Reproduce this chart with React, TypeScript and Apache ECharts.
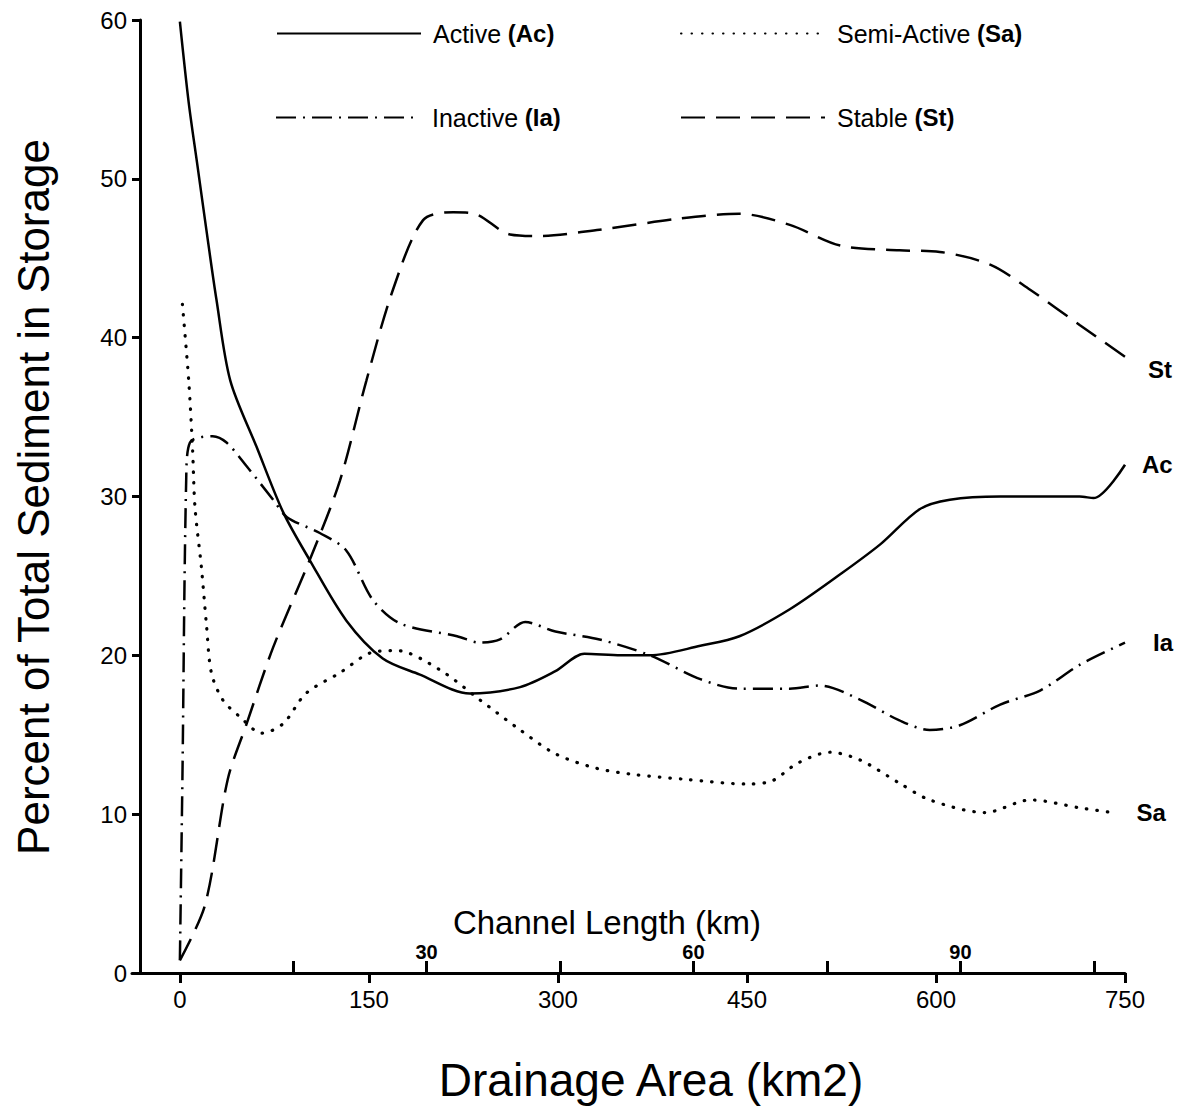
import React, { useEffect, useRef } from "react";
import * as echarts from "echarts";

// Drainage area (km2) and percent values
const acX = [0, 7, 14, 21, 29, 40, 61, 82, 103, 132, 161, 190, 230, 270, 298, 321, 350, 373, 413, 444, 484, 524, 556, 587, 611, 651, 683, 714, 725, 750];
const acY = [59.9, 54.8, 50.8, 46.8, 42.4, 37.3, 33.1, 29.0, 26.0, 22.2, 19.8, 18.8, 17.6, 18.0, 19.0, 20.1, 20.0, 20.0, 20.6, 21.2, 22.9, 25.1, 27.0, 29.2, 29.8, 30.0, 30.0, 30.0, 29.9, 32.0];

const saX = [2, 7, 10, 12, 17, 21, 25, 34, 48, 65, 82, 100, 127, 153, 172, 206, 238, 270, 298, 330, 360, 400, 450, 470, 490, 516, 540, 570, 595, 639, 675, 714, 740];
const saY = [42.1, 37.3, 33.1, 29.3, 25.6, 22.0, 18.9, 17.2, 16.1, 15.1, 15.7, 17.6, 18.9, 20.2, 20.3, 19.1, 17.2, 15.3, 13.8, 12.9, 12.5, 12.2, 11.9, 12.1, 13.2, 13.9, 13.4, 12.0, 10.9, 10.1, 10.9, 10.4, 10.1];

const iaX = [0, 2, 5, 8, 26, 37, 53, 74, 85, 111, 132, 153, 175, 220, 238, 254, 274, 298, 333, 373, 413, 444, 484, 508, 540, 571, 595, 619, 651, 683, 714, 750];
const iaY = [0.8, 12.2, 31.0, 33.4, 33.8, 33.4, 31.9, 29.8, 28.7, 27.7, 26.6, 23.5, 22.0, 21.2, 20.8, 21.0, 22.1, 21.5, 21.0, 20.0, 18.5, 17.9, 17.9, 18.1, 17.2, 15.9, 15.3, 15.6, 16.9, 17.8, 19.4, 20.8];

const stX = [0, 20, 38, 53, 74, 103, 127, 148, 169, 193, 217, 234, 262, 286, 333, 397, 444, 484, 524, 571, 603, 643, 675, 714, 750];
const stY = [0.8, 4.3, 12.2, 15.7, 20.5, 26.0, 31.0, 37.3, 43.0, 47.4, 47.9, 47.8, 46.5, 46.4, 46.8, 47.5, 47.8, 47.1, 45.8, 45.5, 45.4, 44.6, 43.0, 40.8, 38.8];

const areaTicks = [0, 150, 300, 450, 600, 750];
const lengthTicks = [15, 30, 45, 60, 75, 90, 105];
const lengthLabels = [30, 60, 90];

const seriesNames = ["Active (Ac)", "Semi-Active (Sa)", "Inactive (Ia)", "Stable (St)"];
const endNames = ["Ac", "Sa", "Ia", "St"];

const FONT = "'Liberation Sans', Arial, Helvetica, sans-serif";

function pairs(xs: number[], ys: number[]) {
  return xs.map((x, i) => [x, ys[i]]);
}

export default function App() {
  const ref = useRef<HTMLDivElement>(null);

  useEffect(() => {
    const chart = echarts.init(ref.current as HTMLDivElement, null, { renderer: "svg" });

    const legendFormatter = (name: string) => {
      const m = name.match(/^(.*) (\(.*\))$/);
      if (!m) return name;
      return `{n|${m[1]}}  {b|${m[2]}}`;
    };
    const mkLegend = (name: string, left: number, top: number) => ({
      data: [name],
      left,
      top,
      padding: 0,
      itemWidth: 144,
      itemHeight: 14,
      selectedMode: false,
      itemStyle: { opacity: 0, borderWidth: 0 },
      formatter: legendFormatter,
      textStyle: {
        color: "#000",
        fontFamily: FONT,
        rich: {
          n: { fontSize: 25, fontFamily: FONT, color: "#000", padding: [0, 0, 0, 7] },
          b: { fontSize: 24, fontFamily: FONT, fontWeight: "bold", color: "#000" },
        },
      },
    });

    const endLabel = (text: string, dx: number, dy: number) => ({
      show: true,
      formatter: text,
      offset: [dx, dy],
      color: "#000",
      fontSize: 24,
      fontWeight: "bold",
      fontFamily: FONT,
    });

    const lineSeries = (
      name: string,
      xs: number[],
      ys: number[],
      type: any,
      width: number,
      label: any,
      cap: string
    ) => ({
      type: "line",
      name,
      data: pairs(xs, ys),
      xAxisIndex: 0,
      yAxisIndex: 0,
      symbol: "none",
      showSymbol: false,
      smooth: 0.3,
      color: "#000",
      lineStyle: { color: "#000", width, type, cap },
      endLabel: label,
      z: 3,
    });

    const option: any = {
      animation: false,
      backgroundColor: "#fff",
      textStyle: { fontFamily: FONT },
      grid: { left: 132, right: 70, top: 20, bottom: 139, containLabel: false },
      legend: [
        mkLegend(seriesNames[0], 276, 21),
        mkLegend(seriesNames[1], 680, 21),
        mkLegend(seriesNames[2], 275, 105),
        mkLegend(seriesNames[3], 680, 105),
      ],
      xAxis: [
        {
          type: "value",
          min: -38,
          max: 750,
          position: "bottom",
          axisLine: { show: true, onZero: false, lineStyle: { color: "#000", width: 3 } },
          axisTick: { show: true, customValues: areaTicks, length: 10, lineStyle: { color: "#000", width: 3 } },
          axisLabel: { customValues: areaTicks, fontSize: 24, color: "#000", margin: 14, fontFamily: FONT },
          splitLine: { show: false },
        },
        {
          type: "value",
          min: -3.1,
          max: 108.5,
          position: "bottom",
          offset: 0,
          axisLine: { show: false, onZero: false },
          axisTick: { show: true, inside: true, customValues: lengthTicks, length: 12, lineStyle: { color: "#000", width: 3 } },
          axisLabel: {
            inside: true,
            customValues: lengthLabels,
            fontSize: 20,
            fontWeight: "bold",
            color: "#000",
            margin: 11,
            fontFamily: FONT,
          },
          splitLine: { show: false },
        },
      ],
      yAxis: {
        type: "value",
        min: 0,
        max: 60,
        interval: 10,
        offset: -8,
        axisLine: { show: true, onZero: false, lineStyle: { color: "#000", width: 3 } },
        axisTick: { show: true, length: 8, lineStyle: { color: "#000", width: 3 } },
        axisLabel: { fontSize: 24, color: "#000", margin: 13, fontFamily: FONT },
        splitLine: { show: false },
      },
      graphic: [
        {
          type: "text",
          x: 33,
          y: 497,
          rotation: Math.PI / 2,
          style: {
            text: "Percent of Total Sediment in Storage",
            fontSize: 44,
            fontFamily: FONT,
            fill: "#000",
            align: "center",
            verticalAlign: "middle",
          },
        },
        {
          type: "text",
          x: 651,
          y: 1080,
          style: {
            text: "Drainage Area (km2)",
            fontSize: 46,
            fontFamily: FONT,
            fill: "#000",
            align: "center",
            verticalAlign: "middle",
          },
        },
        {
          type: "text",
          x: 607,
          y: 922,
          style: {
            text: "Channel Length (km)",
            fontSize: 33,
            fontFamily: FONT,
            fill: "#000",
            align: "center",
            verticalAlign: "middle",
          },
        },
      ],
      series: [
        lineSeries(seriesNames[0], acX, acY, "solid", 2.5, endLabel(endNames[0], 9, 0), "butt"),
        lineSeries(seriesNames[1], saX, saY, [0.5, 10], 3.2, endLabel(endNames[1], 16, 0), "round"),
        lineSeries(seriesNames[2], iaX, iaY, [20, 7, 2, 7], 2.5, endLabel(endNames[2], 20, 0), "butt"),
        lineSeries(seriesNames[3], stX, stY, [24, 11], 2.5, endLabel(endNames[3], 15, 13), "butt"),
      ],
    };

    chart.setOption(option);
    return () => {
      chart.dispose();
    };
  }, []);

  return (
    <div
      ref={ref}
      style={{ position: "absolute", left: 0, top: 0, width: 1195, height: 1112, background: "#fff" }}
    />
  );
}
